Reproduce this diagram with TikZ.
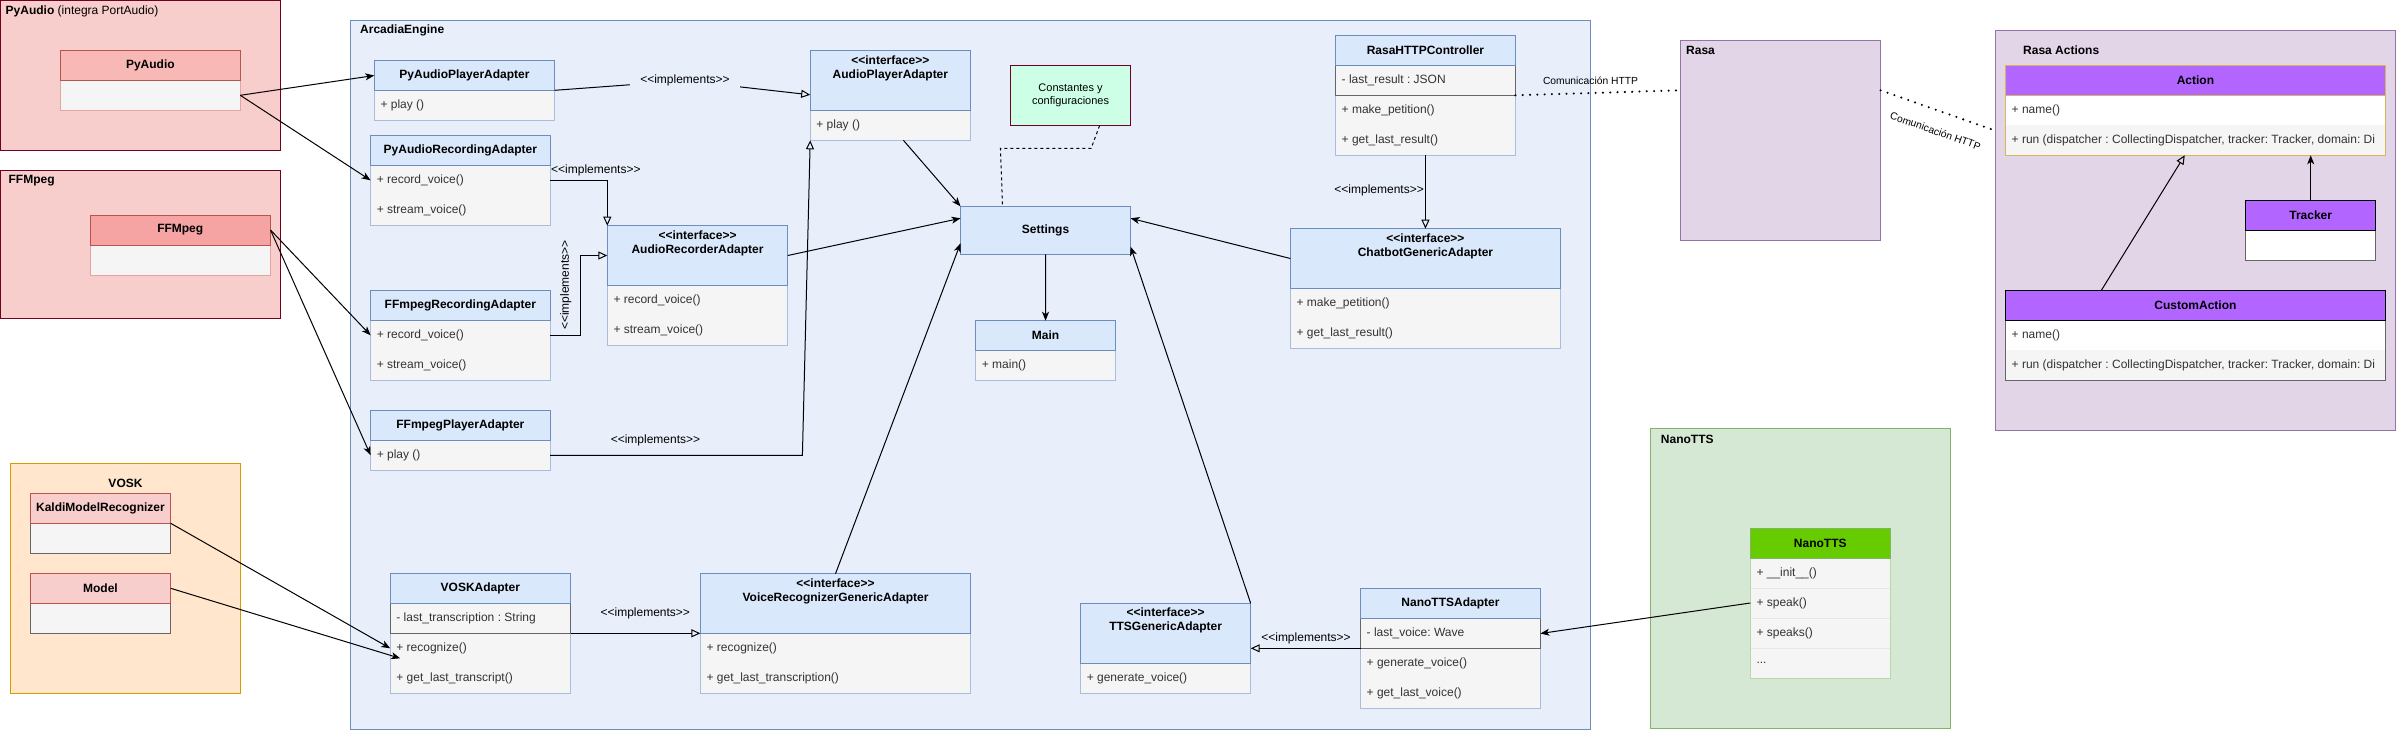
\documentclass[tikz,border=0pt]{standalone}
\usepackage{fontspec}
\setmainfont{Liberation Sans}[Ligatures=TeXOff]
\usetikzlibrary{fit,arrows.meta,calc}
\frenchspacing
\definecolor{cBlueH}{HTML}{DAE8FC}
\definecolor{cBlueS}{HTML}{6C8EBF}
\definecolor{cBodyS}{HTML}{A9BEDD}
\definecolor{cBody}{HTML}{F5F5F5}
\definecolor{cArc}{HTML}{E8EEFA}
\definecolor{cPink}{HTML}{F8CECC}
\definecolor{cMaroon}{HTML}{6F0021}
\definecolor{cRed}{HTML}{B85450}
\definecolor{cPyH}{HTML}{F8B8B6}
\definecolor{cFfH}{HTML}{F5A3A3}
\definecolor{cPinkBody}{HTML}{E3A5A3}
\definecolor{cMint}{HTML}{CCFFE6}
\definecolor{cOrange}{HTML}{FFE6CC}
\definecolor{cOrangeS}{HTML}{D79B00}
\definecolor{cLilac}{HTML}{E1D5E7}
\definecolor{cLilacS}{HTML}{9673A6}
\definecolor{cPurple}{HTML}{B266FF}
\definecolor{cGold}{HTML}{D6B656}
\definecolor{cGreen}{HTML}{D5E8D4}
\definecolor{cGreenS}{HTML}{82B366}
\definecolor{cNtS}{HTML}{B9D8A5}
\definecolor{cRowS}{HTML}{E6E6E6}
\definecolor{cLime}{HTML}{66CC00}
\definecolor{cGrey}{HTML}{666666}
\definecolor{cText}{HTML}{333333}
% box by corners
\newcommand\umlbx[6]{\node[fit={(#2,#3) (#4,#5)},inner sep=0pt,outer sep=0pt,#6] (#1) {};}
% row: box (style #6) + left text
\newcommand\umlrow[7]{\node[fit={(#2,#3) (#4,#5)},inner sep=0pt,outer sep=0pt,#6] (#1) {};%
  \node[mem,anchor=west] (#1-x) at ([xshift=6pt]#1.west) {#7};}
% header with centred bold title
\newcommand\umlhd[7]{\node[fit={(#2,#3) (#4,#5)},inner sep=0pt,outer sep=0pt,#6] (#1) {};%
  \node[ttl] (#1-x) at (#1.center) {#7};}
% interface header
\newcommand\umlihd[6]{\node[fit={(#2,#3) (#4,#5)},inner sep=0pt,outer sep=0pt,hdrb] (#1) {};%
  \node[ttl,anchor=north,align=center] (#1-x) at ([yshift=-4.5pt]#1.north) {<<interface>>\\#6};}
\begin{document}
\begin{tikzpicture}[x=1pt,y=-1pt,
  every node/.style={font=\fontsize{12}{14}\selectfont\frenchspacing},
  hdrb/.style={draw=cBlueS,fill=cBlueH,line width=1pt},
  bodyb/.style={draw=cBodyS,fill=cBody,line width=1pt},
  attrb/.style={draw=cGrey,fill=cBody,line width=1pt},
  ttl/.style={inner sep=0pt,font=\fontsize{12}{14}\selectfont\bfseries},
  mem/.style={inner sep=0pt,text=cText},
  lbl/.style={inner sep=0pt},
  conn/.style={line width=1pt},
  arw/.style={conn,-{Stealth[length=9pt,width=7pt,inset=2.5pt]}},
  impl/.style={conn,-{Triangle[open,length=9pt,width=8pt]}},
  dotl/.style={line width=2.3pt,line cap=round,dash pattern=on 0pt off 7.3pt},
  dashl/.style={conn,dash pattern=on 3pt off 3pt},
  ntrow/.style={draw=cRowS,fill=cBody,line width=1pt}]
\useasboundingbox (0,0) rectangle (2396,731);
\fill[white] (0,0) rectangle (2396,731);

% ---------- containers ----------
\umlbx{pyc}{0.5}{0.5}{280.5}{150}{draw=cMaroon,fill=cPink,line width=1pt}
\node[lbl,anchor=west] (pyc-x) at (5.5,11) {\textbf{PyAudio} (integra PortAudio)};
\umlbx{ffc}{0.5}{170}{280.5}{318}{draw=cMaroon,fill=cPink,line width=1pt}
\node[ttl,anchor=west] (ffc-x) at (8.4,181) {FFMpeg};
\umlbx{arc}{350.2}{20.7}{1590.7}{729.5}{draw=cBlueS,fill=cArc,line width=1pt}
\node[ttl,anchor=west] (arc-x) at (360,30.7) {ArcadiaEngine};
\umlbx{vkc}{10.3}{463.3}{240.3}{693.3}{draw=cOrangeS,fill=cOrange,line width=1pt}
\node[ttl] (vkc-x) at (125.5,483.3) {VOSK};
\umlbx{rsc}{1680.5}{40.3}{1880.6}{240.3}{draw=cLilacS,fill=cLilac,line width=1pt}
\node[ttl,anchor=west] (rsc-x) at (1686,50.7) {Rasa};
\umlbx{rac}{1995.4}{30.3}{2395.5}{430.3}{draw=cLilacS,fill=cLilac,line width=1pt}
\node[ttl,anchor=west] (rac-x) at (2023,50.7) {Rasa Actions};
\umlbx{ntc}{1650.3}{428.3}{1950.7}{728.3}{draw=cGreenS,fill=cGreen,line width=1pt}
\node[ttl,anchor=west] (ntc-x) at (1660.7,439) {NanoTTS};

% ---------- external classes ----------
\umlbx{pa-b}{60.5}{80.3}{240.3}{110.3}{draw=cPinkBody,fill=cBody,line width=1pt}
\umlhd{pa-h}{60.5}{50.7}{240.3}{80.3}{draw=cRed,fill=cPyH,line width=1pt}{PyAudio}
\umlbx{ff-b}{90}{245}{270.5}{275}{draw=cPinkBody,fill=cBody,line width=1pt}
\umlhd{ff-h}{90}{215}{270.5}{245}{draw=cRed,fill=cFfH,line width=1pt}{FFMpeg}
\umlbx{kd-b}{30.2}{523.3}{170.7}{553.3}{draw=cGrey,fill=cBody,line width=1pt}
\umlhd{kd-h}{30.2}{493.3}{170.7}{523.3}{draw=cRed,fill=cPink,line width=1pt}{KaldiModelRecognizer}
\umlbx{md-b}{30.2}{603.3}{170.7}{633.3}{draw=cGrey,fill=cBody,line width=1pt}
\umlhd{md-h}{30.2}{573.3}{170.7}{603.3}{draw=cRed,fill=cPink,line width=1pt}{Model}

% ---------- ArcadiaEngine classes ----------
\umlrow{ppa-r1}{374.3}{90.3}{554.7}{120.3}{bodyb}{+ play ()}
\umlhd{ppa-h}{374.3}{60.7}{554.7}{90.3}{hdrb}{PyAudioPlayerAdapter}

\umlbx{par-b}{370.6}{165.3}{550.2}{225.3}{bodyb}
\umlrow{par-r1}{370.6}{165.3}{550.2}{195.3}{}{+ record\_voice()}
\umlrow{par-r2}{370.6}{195.3}{550.2}{225.3}{}{+ stream\_voice()}
\umlhd{par-h}{370.6}{135.7}{550.2}{165.3}{hdrb}{PyAudioRecordingAdapter}

\umlbx{ffr-b}{370.6}{320.3}{550.2}{380.3}{bodyb}
\umlrow{ffr-r1}{370.6}{320.3}{550.2}{350.3}{}{+ record\_voice()}
\umlrow{ffr-r2}{370.6}{350.3}{550.2}{380.3}{}{+ stream\_voice()}
\umlhd{ffr-h}{370.6}{290.3}{550.2}{320.3}{hdrb}{FFmpegRecordingAdapter}

\umlrow{ffp-r1}{370.6}{440.3}{550.2}{470.3}{bodyb}{+ play ()}
\umlhd{ffp-h}{370.6}{410.7}{550.2}{440.3}{hdrb}{FFmpegPlayerAdapter}

\umlrow{apa-r1}{810.2}{110.3}{970.6}{140.3}{bodyb}{+ play ()}
\umlihd{apa-h}{810.2}{50.7}{970.6}{110.3}{AudioPlayerAdapter}

\umlbx{arr-b}{607.3}{285.3}{787.8}{345.3}{bodyb}
\umlrow{arr-r1}{607.3}{285.3}{787.8}{315.3}{}{+ record\_voice()}
\umlrow{arr-r2}{607.3}{315.3}{787.8}{345.3}{}{+ stream\_voice()}
\umlihd{arr-h}{607.3}{225.7}{787.8}{285.3}{AudioRecorderAdapter}

\umlhd{set}{960.5}{206.3}{1130.6}{254.3}{hdrb}{Settings}

\umlbx{cst}{1010.5}{65.7}{1130.6}{125.7}{draw=cMaroon,fill=cMint,line width=1pt}
\node[inner sep=0pt,align=center,font=\fontsize{11}{13}\selectfont] (cst-x) at (cst.center) {Constantes y\\configuraciones};

\umlrow{mn-r1}{975.7}{350.3}{1115.4}{380.3}{bodyb}{+ main()}
\umlhd{mn-h}{975.7}{320.7}{1115.4}{350.3}{hdrb}{Main}

\umlbx{rh-b}{1335.5}{95.3}{1515.4}{155.3}{bodyb}
\umlrow{rh-r1}{1335.5}{95.3}{1515.4}{125.3}{}{+ make\_petition()}
\umlrow{rh-r2}{1335.5}{125.3}{1515.4}{155.3}{}{+ get\_last\_result()}
\umlrow{rh-a}{1335.5}{65.3}{1515.4}{95.3}{attrb}{- last\_result : JSON}
\umlhd{rh-h}{1335.5}{35.3}{1515.4}{65.3}{hdrb}{RasaHTTPController}

\umlbx{cb-b}{1290.4}{288.3}{1560.5}{348.3}{bodyb}
\umlrow{cb-r1}{1290.4}{288.3}{1560.5}{318.3}{}{+ make\_petition()}
\umlrow{cb-r2}{1290.4}{318.3}{1560.5}{348.3}{}{+ get\_last\_result()}
\umlihd{cb-h}{1290.4}{228.7}{1560.5}{288.3}{ChatbotGenericAdapter}

\umlbx{va-b}{390.2}{633.3}{570.6}{693.3}{bodyb}
\umlrow{va-r1}{390.2}{633.3}{570.6}{663.3}{}{+ recognize()}
\umlrow{va-r2}{390.2}{663.3}{570.6}{693.3}{}{+ get\_last\_transcript()}
\umlrow{va-a}{390.2}{603.3}{570.6}{633.3}{attrb}{- last\_transcription : String}
\umlhd{va-h}{390.2}{573.7}{570.6}{603.3}{hdrb}{VOSKAdapter}

\umlbx{vr-b}{700.4}{633.3}{970.6}{693.3}{bodyb}
\umlrow{vr-r1}{700.4}{633.3}{970.6}{663.3}{}{+ recognize()}
\umlrow{vr-r2}{700.4}{663.3}{970.6}{693.3}{}{+ get\_last\_transcription()}
\umlihd{vr-h}{700.4}{573.7}{970.6}{633.3}{VoiceRecognizerGenericAdapter}

\umlrow{tts-r1}{1080.6}{663.3}{1250.7}{693.3}{bodyb}{+ generate\_voice()}
\umlihd{tts-h}{1080.6}{603.3}{1250.7}{663.3}{TTSGenericAdapter}

\umlbx{na-b}{1360.5}{648.3}{1540.4}{708.3}{bodyb}
\umlrow{na-r1}{1360.5}{648.3}{1540.4}{678.3}{}{+ generate\_voice()}
\umlrow{na-r2}{1360.5}{678.3}{1540.4}{708.3}{}{+ get\_last\_voice()}
\umlrow{na-a}{1360.5}{618.7}{1540.4}{648.3}{attrb}{- last\_voice: Wave}
\umlhd{na-h}{1360.5}{588.7}{1540.4}{618.7}{hdrb}{NanoTTSAdapter}

% ---------- NanoTTS ----------
\umlrow{nt-r1}{1750.3}{558}{1890.3}{588}{ntrow}{+ \_\_init\_\_()}
\umlrow{nt-r2}{1750.3}{588}{1890.3}{618}{ntrow}{+ speak()}
\umlrow{nt-r3}{1750.3}{618}{1890.3}{648}{ntrow}{+ speaks()}
\umlrow{nt-r4}{1750.3}{648}{1890.3}{678}{ntrow}{...}
\umlbx{nt-b}{1750.3}{558}{1890.3}{678}{draw=cNtS,line width=1pt}
\umlhd{nt-h}{1750.3}{528.3}{1890.3}{558}{draw=cGreenS,fill=cLime,line width=1pt}{NanoTTS}

% ---------- Rasa Actions ----------
\umlrow{ac-r1}{2005.5}{95.3}{2385.4}{125.3}{fill=white}{+ name()}
\umlbx{ac-r2}{2005.5}{125.3}{2385.4}{155.3}{fill=cBody}
\begin{scope}
\clip (2005.5,125.3) rectangle (2384.9,155.3);
\node[mem,anchor=west] (ac-r2-x) at ([xshift=6pt]ac-r2.west) {+ run (dispatcher : CollectingDispatcher, tracker: Tracker, domain: Di};
\end{scope}
\umlbx{ac-b}{2005.5}{95.3}{2385.4}{155.3}{draw=cGold,line width=1pt}
\umlhd{ac-h}{2005.5}{65.7}{2385.4}{95.3}{draw=cGold,fill=cPurple,line width=1pt}{Action}

\umlbx{tr-b}{2245.6}{230.3}{2375.8}{260.3}{draw=cGrey,fill=white,line width=1pt}
\umlhd{tr-h}{2245.6}{200.3}{2375.8}{230.3}{draw=black,fill=cPurple,line width=1pt}{Tracker}

\umlrow{cu-r1}{2005.5}{320.3}{2385.4}{350.3}{fill=white}{+ name()}
\umlbx{cu-r2}{2005.5}{350.3}{2385.4}{380.3}{fill=cBody}
\begin{scope}
\clip (2005.5,350.3) rectangle (2384.9,380.3);
\node[mem,anchor=west] (cu-r2-x) at ([xshift=6pt]cu-r2.west) {+ run (dispatcher : CollectingDispatcher, tracker: Tracker, domain: Di};
\end{scope}
\umlbx{cu-b}{2005.5}{320.3}{2385.4}{380.3}{draw=cGrey,line width=1pt}
\umlhd{cu-h}{2005.5}{290.3}{2385.4}{320.3}{draw=black,fill=cPurple,line width=1pt}{CustomAction}

% ---------- connectors ----------
\draw[arw] (pa-b.east) -- (ppa-h.west);
\draw[arw] (pa-b.east) -- (par-r1.west);
\draw[arw] (ff-h.east) -- (ffr-r1.west);
\draw[arw] (ff-h.east) -- (ffp-r1.west);
\draw[arw] (kd-h.south east) -- (va-r1.west);
\draw[arw] (md-h.east) -- ([xshift=10pt,yshift=-10pt]va-r1.west);

\coordinate (k1) at (685,80.7);
\draw[impl] (ppa-h.south east) -- (k1) -- ($(apa-h.north west)!0.74!(apa-h.south west)$);
\node[lbl,fill=cArc,inner xsep=10pt,inner ysep=2pt] (l1) at (k1) {<<implements>>};

\draw[impl] (par-r1.east) -| (arr-h.north west);
\node[lbl,anchor=west] (l2) at (551,170.7) {<<implements>>};

\draw[impl] (ffr-r1.east) -- ++(29.8,0) |- (arr-h.west);
\node[lbl,rotate=90] (l3) at (565.7,285) {<<implements>>};

\draw[impl] (ffp-r1.east) -- ++(252.2,0) -- (apa-r1.south west);
\node[lbl] (l4) at (655.5,440.3) {<<implements>>};

\draw[impl] (va-a.south east) -- (vr-h.south west);
\node[lbl] (l5) at (645.3,613.7) {<<implements>>};

\draw[impl] (na-a.south west) -- (tts-h.east |- na-a.south west);
\node[lbl] (l6) at (1306,638.7) {<<implements>>};

\draw[impl] (rh-r2.south) -- (cb-h.north);
\node[lbl,anchor=east] (l7) at (1424,190.7) {<<implements>>};

\draw[arw] ([xshift=13pt]apa-r1.south) -- (set.north west);
\draw[arw] (arr-h.east) -- ([yshift=-12pt]set.north west);
\draw[arw] (vr-h.north) -- ([yshift=11pt]set.south west);
\draw[arw] (cb-h.west) -- ([yshift=-12pt]set.north east);
\draw[arw] (tts-h.north east) -- ([yshift=7.6pt]set.south east);
\draw[arw] (set.south) -- (mn-h.north);
\draw[dashl] ([xshift=29pt]cst.south) -- ++(-8.4,22.6) -- ++(-90.7,0) -- ([xshift=-43pt]set.north);

\draw[arw] (nt-r2.west) -- (na-a.east);

\draw[dotl] (rh-a.south east) -- ([yshift=-50pt]rsc.north west);
\node[lbl,font=\fontsize{10.3}{12}\selectfont] (l8) at (1590.5,81) {Comunicación HTTP};
\draw[dotl] ([yshift=-50pt]rsc.north east) -- ([yshift=-100.4pt]rac.north west);
\node[lbl,font=\fontsize{10.3}{12}\selectfont,rotate=-19.4] (l9) at (1935.5,131) {Comunicación HTTP};

\draw[arw] (tr-h.north) -- (tr-h.north |- ac-b.south);
\draw[impl] ([xshift=-94.1pt]cu-h.north) -- ([xshift=-10.7pt]ac-b.south);
\end{tikzpicture}
\end{document}
